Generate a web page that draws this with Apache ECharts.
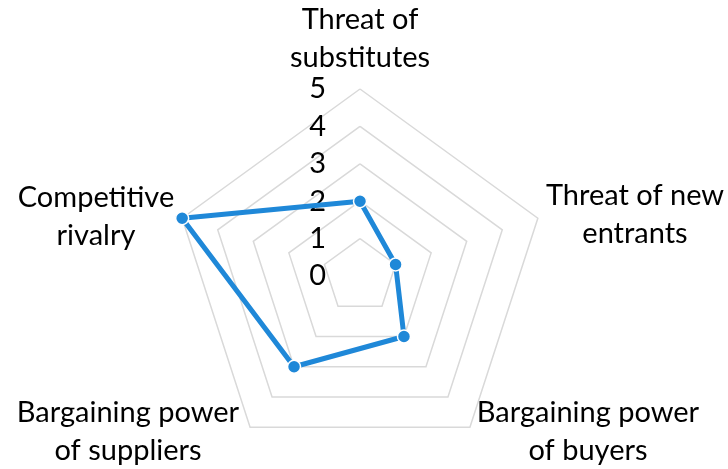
<!DOCTYPE html>
<html>
<head>
<meta charset="utf-8">
<script src="https://cdn.jsdelivr.net/npm/echarts@6/dist/echarts.min.js"></script>
<style>
  html, body { margin: 0; padding: 0; background: #fff; }
  #chart { width: 728px; height: 469px; }
</style>
</head>
<body>
<div id="chart"></div>
<script>
const categories = [
  "Threat of\nsubstitutes",
  "Threat of new\nentrants",
  "Bargaining power\nof buyers",
  "Bargaining power\nof suppliers",
  "Competitive\nrivalry",
];
const scores = [2, 1, 2, 3, 5];
const maxScore = 5;

// where each category name sits (Excel puts them a bit irregularly)
const nameLayout = [
  [360, 39],
  [635, 215],
  [588, 432],
  [128, 432],
  [96, 217],
];

// echarts lays the radar axes out counter-clockwise, Excel goes clockwise
const order = [0, 4, 3, 2, 1];

const font = "Lato, 'Open Sans', sans-serif";
const chart = echarts.init(document.getElementById("chart"));

chart.setOption({
  animation: false,
  radar: {
    center: [360, 276],
    radius: 187,
    startAngle: 90,
    shape: "polygon",
    splitNumber: 5,
    axisName: { show: false },
    axisLine: { show: false },
    axisTick: { show: false },
    axisLabel: { show: false },
    splitArea: { show: false },
    splitLine: { lineStyle: { color: "#d9d9d9", width: 1.5 } },
    indicator: order.map((k, i) => {
      const ind = { name: categories[k], min: 0, max: maxScore };
      if (i === 0) {
        ind.axisLabel = {
          show: true,
          margin: 34,
          color: "#000",
          fontFamily: font,
          fontSize: 29,
          padding: [6, 0, 0, 0],
        };
      }
      return ind;
    }),
  },
  series: [{
    type: "radar",
    symbol: "circle",
    symbolSize: 13,
    lineStyle: { color: "#1F88D8", width: 5 },
    itemStyle: { color: "#1F88D8", borderColor: "#fff", borderWidth: 1.5 },
    data: [{ value: order.map((k) => scores[k]), name: "Score" }],
  }],
  graphic: categories.map((c, i) => ({
    type: "text",
    style: {
      text: c,
      x: nameLayout[i][0],
      y: nameLayout[i][1],
      align: "center",
      verticalAlign: "middle",
      lineHeight: 38,
      font: "29px " + font,
      fill: "#000",
    },
  })),
});
</script>
</body>
</html>
